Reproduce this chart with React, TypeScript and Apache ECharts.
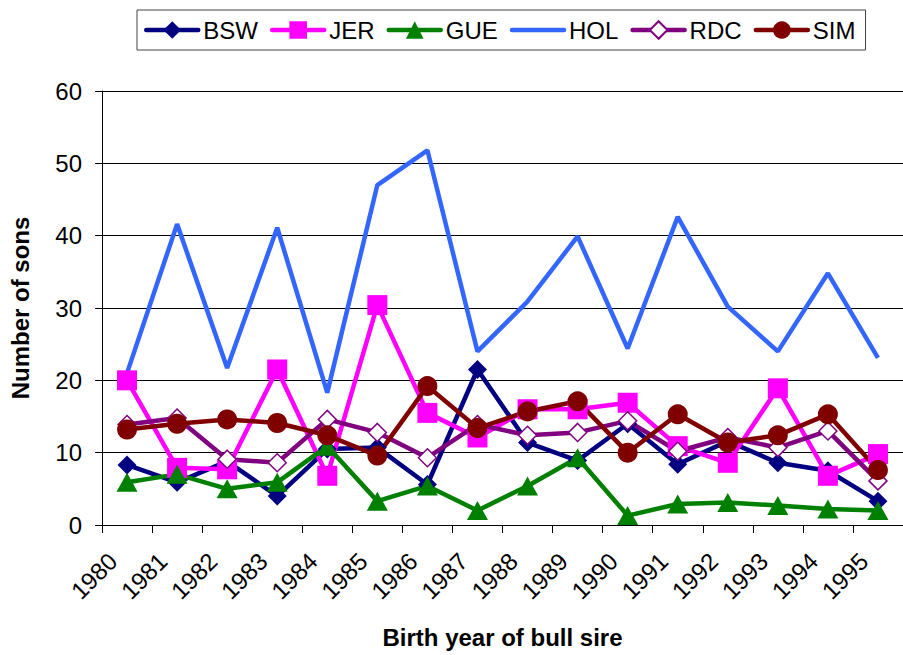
import React, { useEffect, useRef } from "react";
import * as echarts from "echarts";

const years = ["1980", "1981", "1982", "1983", "1984", "1985", "1986", "1987", "1988", "1989", "1990", "1991", "1992", "1993", "1994", "1995"];
const BSW = [8.3, 5.9, 8.8, 4.0, 10.5, 10.7, 5.6, 21.5, 11.4, 8.9, 14.0, 8.4, 11.6, 8.6, 7.5, 3.3];
const JER = [20.0, 7.9, 7.7, 21.5, 6.8, 30.4, 15.5, 12.1, 16.0, 16.0, 16.9, 10.9, 8.6, 18.9, 6.8, 9.8];
const GUE = [5.9, 7.0, 5.0, 5.9, 10.9, 3.3, 5.4, 2.0, 5.4, 9.3, 1.3, 2.9, 3.1, 2.7, 2.2, 2.0];
const HOL = [21.0, 41.6, 21.7, 41.1, 18.3, 47.0, 51.8, 24.0, 30.9, 39.9, 24.4, 42.6, 30.2, 24.0, 34.8, 23.1];
const RDC = [13.9, 14.8, 9.1, 8.6, 14.6, 12.8, 9.3, 13.9, 12.4, 12.8, 14.4, 10.2, 12.1, 10.7, 13.0, 6.1];
const SIM = [13.2, 14.0, 14.6, 14.1, 12.4, 9.6, 19.2, 13.4, 15.7, 17.1, 10.0, 15.3, 11.4, 12.4, 15.3, 7.6];

const FONT = "'Liberation Sans', Arial, sans-serif";

export default function App() {
  const ref = useRef<HTMLDivElement>(null);
  useEffect(() => {
    if (!ref.current) return;
    const chart = echarts.init(ref.current, null, { renderer: "svg" });
    const mk = (name: string, data: number[], color: string, symbol: string, size: any) => ({
      name,
      type: "line",
      data,
      symbol,
      symbolSize: size,
      showSymbol: symbol !== "none",
      lineStyle: { color, width: 4.5 },
      itemStyle: { color, borderColor: color, borderWidth: 0 },
    });
    chart.setOption({
      animation: false,
      textStyle: { fontFamily: FONT },
      legend: {
        left: 137,
        top: 10,
        padding: [8, 10, 8, 7],
        itemWidth: 52,
        itemHeight: 22,
        itemGap: 12,
        borderColor: "#444",
        borderWidth: 1,
        lineStyle: { width: 4.5, cap: "round" },
        textStyle: { fontSize: 24, color: "#000", fontFamily: FONT },
        data: [
          "BSW",
          "JER",
          "GUE",
          { name: "HOL", itemStyle: { opacity: 0 } },
          "RDC",
          "SIM",
        ],
      },
      grid: { left: 99, top: 91, width: 812, height: 434, containLabel: false },
      xAxis: {
        type: "category",
        data: years,
        boundaryGap: true,
        name: "Birth year of bull sire",
        nameLocation: "middle",
        nameGap: 100,
        nameTextStyle: { fontSize: 24, fontWeight: "bold", color: "#000", fontFamily: FONT },
        axisLine: { lineStyle: { color: "#000", width: 1 } },
        axisTick: { show: true, length: 8, lineStyle: { color: "#000" } },
        axisLabel: {
          rotate: 45,
          fontSize: 24,
          color: "#000",
          margin: 18,
          padding: [0, 20, 0, 0],
          interval: 0,
          fontFamily: FONT,
        },
        splitLine: { show: false },
      },
      yAxis: {
        type: "value",
        min: 0,
        max: 60,
        interval: 10,
        name: "Number of sons",
        nameLocation: "middle",
        nameGap: 70,
        nameTextStyle: { fontSize: 24, fontWeight: "bold", color: "#000", fontFamily: FONT },
        axisLine: { show: true, lineStyle: { color: "#000", width: 1 } },
        axisTick: { show: true, length: 7, lineStyle: { color: "#000" } },
        axisLabel: { fontSize: 24, color: "#000", margin: 20, fontFamily: FONT },
        splitLine: { show: true, lineStyle: { color: "#000", width: 1 } },
      },
      series: [
        mk("BSW", BSW, "#000080", "diamond", 19),
        mk("JER", JER, "#FF00FF", "rect", 20),
        mk("GUE", GUE, "#008000", "triangle", [21, 19]),
        mk("HOL", HOL, "#3366FF", "none", 0),
        {
          name: "RDC",
          type: "line",
          data: RDC,
          symbol: "diamond",
          symbolSize: 18,
          lineStyle: { color: "#800080", width: 4.5 },
          itemStyle: { color: "#FFFFFF", borderColor: "#800080", borderWidth: 1.5 },
        },
        mk("SIM", SIM, "#800000", "circle", 20),
      ],
    });
    return () => chart.dispose();
  }, []);
  return <div ref={ref} style={{ position: "absolute", left: 0, top: 0, width: 903, height: 655 }} />;
}
